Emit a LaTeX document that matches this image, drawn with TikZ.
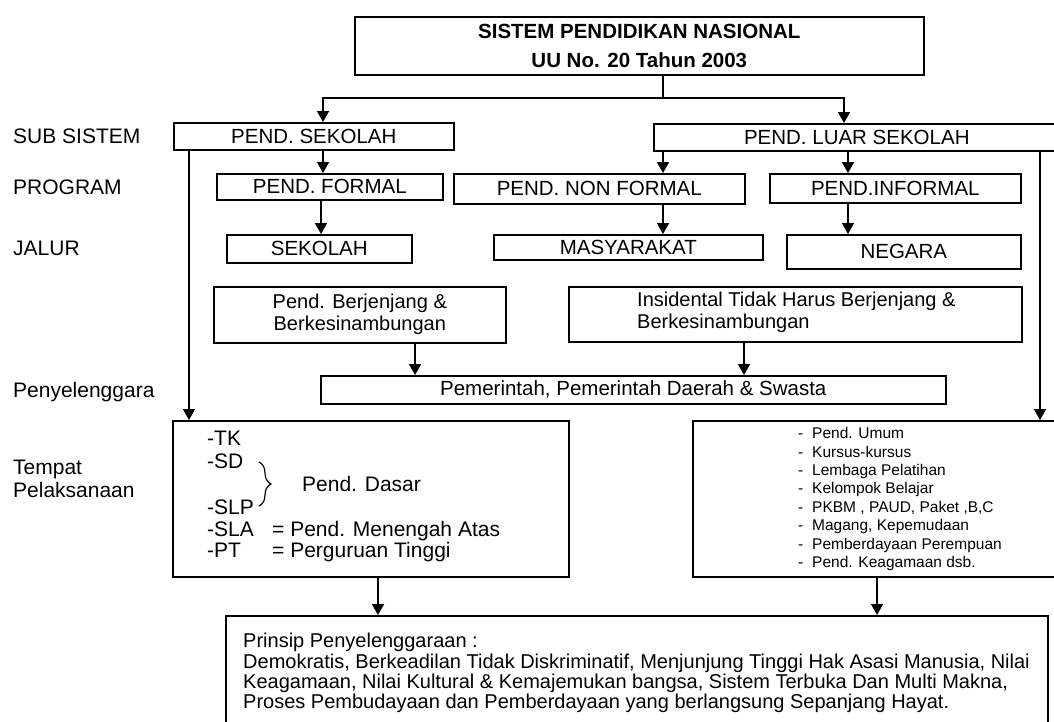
\documentclass[tikz,border=0pt]{standalone}
\usepackage{fontspec}
\setmainfont{Liberation Sans}
\usetikzlibrary{arrows.meta,decorations.pathreplacing}
\begin{document}
\begin{tikzpicture}[x=1pt,y=-1pt,
  box/.style={draw, line width=1.6pt, inner sep=0pt, anchor=north west, align=center,
    font=\fontsize{20.5}{22}\selectfont},
  arr/.style={line width=1.6pt, -{Triangle[length=11pt,width=12pt]}},
  ln/.style={line width=1.6pt},
  lbl/.style={anchor=base west, inner sep=0pt, yshift=-7.3pt, font=\fontsize{21}{23}\selectfont},
  lst/.style={anchor=base west, inner sep=0pt, yshift=-5.6pt, font=\fontsize{15.5}{17}\selectfont},
  prn/.style={anchor=base west, inner sep=0pt, yshift=-7.1pt, font=\fontsize{20}{20}\selectfont}]
\useasboundingbox (0,0) rectangle (1054,721);
\clip (0,0) rectangle (1054,721);
\fill[white] (0,0) rectangle (1054,721);

% boxes
\node[box, minimum width=569pt, minimum height=58pt, font=\bfseries\fontsize{20.5}{29}\selectfont]
  (title) at (354,16) {SISTEM PENDIDIKAN NASIONAL\\UU No. 20 Tahun 2003};
\node[box, minimum width=280pt, minimum height=27pt] (ps) at (173,122) {PEND. SEKOLAH};
\node[box, minimum width=406pt, minimum height=27pt] (pls) at (653,123) {PEND. LUAR SEKOLAH};
\node[box, minimum width=226pt, minimum height=26pt] (pf) at (216,173) {PEND. FORMAL};
\node[box, minimum width=291pt, minimum height=30pt] (pnf) at (453,173) {PEND. NON FORMAL};
\node[box, minimum width=251pt, minimum height=29pt] (pi) at (769,173) {PEND.INFORMAL};
\node[box, minimum width=185pt, minimum height=28pt] (sek) at (226,234) {SEKOLAH};
\node[box, minimum width=269pt, minimum height=25pt] (mas) at (493,234) {MASYARAKAT};
\node[box, minimum width=234pt, minimum height=34pt] (neg) at (786,234) {NEGARA};
\node[box, minimum width=292pt, minimum height=56pt, font=\fontsize{20}{22}\selectfont]
  (berj) at (213,286) {Pend. Berjenjang \&\\Berkesinambungan};
\node[box, minimum width=453pt, minimum height=55pt] (insid) at (568,286) {};
\node[anchor=west, inner sep=0pt, align=left, font=\fontsize{20}{22}\selectfont]
  (insidtxt) at (637,312) {Insidental Tidak Harus Berjenjang \&\\Berkesinambungan};
\node[box, minimum width=625pt, minimum height=28pt] (pem) at (320,375) {Pemerintah, Pemerintah Daerah \& Swasta};
\node[box, minimum width=396pt, minimum height=156pt] (tl) at (172,420) {};
\node[box, minimum width=370pt, minimum height=156pt] (tr) at (692,420) {};
\node[box, minimum width=822pt, minimum height=130pt] (prinsip) at (225,615) {};

% left labels
\node[lbl] (l1) at (13,136) {SUB SISTEM};
\node[lbl] (l2) at (13,187) {PROGRAM};
\node[lbl] (l3) at (13,248) {JALUR};
\node[lbl] (l4) at (13,390) {Penyelenggara};
\node[lbl] (l5) at (13,467) {Tempat};
\node[lbl] (l6) at (13,490) {Pelaksanaan};

% left place box content
\node[lbl] (tk) at (207,438) {-TK};
\node[lbl] (sd) at (207,461) {-SD};
\node[lbl] (slp) at (207,507) {-SLP};
\node[lbl] (sla) at (207,529) {\makebox[65pt][l]{-SLA}= Pend. Menengah Atas};
\node[lbl] (ptt) at (207,550) {\makebox[65pt][l]{-PT}= Perguruan Tinggi};
\node[lbl] (dasar) at (302,484) {Pend. Dasar};
\draw[line width=1.2pt, decorate, decoration={brace, amplitude=12pt}] (259,462) -- (259,506);

% right place box content
\foreach \t [count=\i] in {Pend. Umum, Kursus-kursus, Lembaga Pelatihan, Kelompok Belajar,
  {PKBM , PAUD, Paket ,B,C}, {Magang, Kepemudaan}, Pemberdayaan Perempuan, Pend. Keagamaan dsb.}
  \node[lst] (r\i) at (798,{433+(\i-1)*18.43}) {\makebox[14pt][l]{-}\t};

% principles
\node[prn] (p1) at (243,640) {Prinsip Penyelenggaraan :};
\node[prn] (p2) at (243,661) {Demokratis, Berkeadilan Tidak Diskriminatif, Menjunjung Tinggi Hak Asasi Manusia, Nilai};
\node[prn] (p3) at (243,681) {Keagamaan, Nilai Kultural \& Kemajemukan bangsa, Sistem Terbuka Dan Multi Makna,};
\node[prn] (p4) at (243,701) {Proses Pembudayaan dan Pemberdayaan yang berlangsung Sepanjang Hayat.};

% connector coordinates
\coordinate (cT) at (663,98);
\coordinate (cL) at (323,98);
\coordinate (cR) at (844,98);
\coordinate (xL) at (189,0);
\coordinate (xR) at (1040,0);
\coordinate (xF) at (321,0);
\coordinate (xI) at (848,0);
\coordinate (xB) at (415,0);
\coordinate (xN) at (744,0);
\coordinate (xP1) at (378,0);
\coordinate (xP2) at (877,0);

% connectors
\draw[ln] (title.south -| cT) -- (cT);
\draw[arr] (cT) -- (cL) -- (cL |- ps.north);
\draw[arr] (cT) -- (cR) -- (cR |- pls.north);
\draw[arr] (ps.south -| cL) -- (pf.north -| cL);
\draw[arr] (pf.south -| xF) -- (sek.north -| xF);
\draw[arr] (pls.south -| cT) -- (pnf.north -| cT);
\draw[arr] (pls.south -| xI) -- (pi.north -| xI);
\draw[arr] (pnf.south -| cT) -- (mas.north -| cT);
\draw[arr] (pi.south -| xI) -- (neg.north -| xI);
\draw[arr] (ps.south -| xL) -- (tl.north -| xL);
\draw[arr] (pls.south -| xR) -- (tr.north -| xR);
\draw[arr] (berj.south -| xB) -- (pem.north -| xB);
\draw[arr] (insid.south -| xN) -- (pem.north -| xN);
\draw[arr] (tl.south -| xP1) -- (prinsip.north -| xP1);
\draw[arr] (tr.south -| xP2) -- (prinsip.north -| xP2);
\end{tikzpicture}
\end{document}
